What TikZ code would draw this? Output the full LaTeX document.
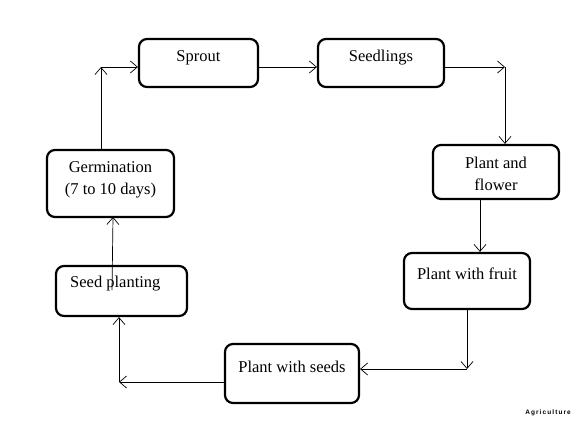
\documentclass[tikz,border=0pt]{standalone}
\usepackage{fontspec}
\setmainfont{Liberation Serif}
\newfontfamily\agrifont{Liberation Sans}
\usetikzlibrary{arrows.meta}
\tikzset{
  stage/.style={draw, line width=2.2pt, rounded corners=8pt, inner sep=0pt},
  label/.style={font=\fontsize{16.5}{22}\selectfont, align=center, inner sep=0pt},
  link/.style={line width=0.7pt, -{Straight Barb[length=7pt,width=12pt,line width=0.7pt]}}
}
\begin{document}
\begin{tikzpicture}[x=1pt,y=-1pt]
\useasboundingbox (0,0) rectangle (578,421);
% boxes
\node[stage, minimum width=119pt, minimum height=48pt] (sprout) at (198.5,63) {};
\node[label] (tsprout) at (198.5,58) {Sprout};
\node[stage, minimum width=126pt, minimum height=48pt] (seedl) at (381,63) {};
\node[label] (tseedl) at (381,58) {Seedlings};
\node[stage, minimum width=126pt, minimum height=54pt] (flower) at (496,172) {};
\node[label] (tflower) at (496,174) {Plant and\\flower};
\node[stage, minimum width=127pt, minimum height=67pt] (germ) at (110.5,183.5) {};
\node[label] (tgerm) at (110.5,179.5) {Germination\\(7 to 10 days)};
\node[stage, minimum width=131pt, minimum height=50pt] (seedp) at (121.5,291) {};
\node[label, anchor=west] (tseedp) at (70,284) {Seed planting};
\node[stage, minimum width=126pt, minimum height=56pt] (fruit) at (467,281) {};
\node[label] (tfruit) at (467,273.5) {Plant with fruit};
\node[stage, minimum width=134pt, minimum height=59pt] (pseeds) at (292,373.5) {};
\node[label] (tpseeds) at (292,367) {Plant with seeds};
\node[anchor=east, inner sep=0pt] (agri) at (571,413) {\agrifont\bfseries\fontsize{6.5}{7}\selectfont A\,g\,r\,i\,c\,u\,l\,t\,u\,r\,e};
% helper coordinates
\coordinate (c1) at (101,67);
\coordinate (c2) at (505,67);
\coordinate (c3) at (467,369);
\coordinate (c4) at (119,382);
\coordinate (c5) at (112,290);
\coordinate (c6) at (480,199);
% connectors
\draw[link] (germ.north -| c1) -- (c1);
\draw[link] (c1) -- (c1 -| sprout.west);
\draw[link] (sprout.east |- c1) -- (seedl.west |- c1);
\draw[link] (seedl.east |- c2) -- (c2);
\draw[link] (c2) -- (c2 |- flower.north);
\draw[link] (flower.south -| c6) -- (c6 |- fruit.north);
\draw[link] (fruit.south -| c3) -- (c3);
\draw[link] (c3) -- (pseeds.east |- c3);
\draw[link] (pseeds.west |- c4) -- (c4);
\draw[link] (c4) -- (c4 |- seedp.south);
\draw[link] (c5) -- (113,217);
\end{tikzpicture}
\end{document}
